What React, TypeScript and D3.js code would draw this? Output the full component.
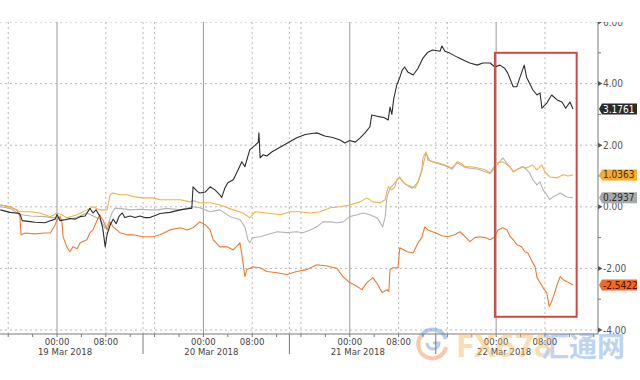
import React from "react";
import * as d3 from "d3";

// ---- data (hours relative to 19 Mar 2018 00:00, value) ----
const blackSeries: [number, number][] = [
  [-9.3, -0.1], [-7.7, -0.18], [-6.1, -0.22], [-5.7, -0.45], [-4.4, -0.48], [-3.6, -0.5], [-2.0, -0.52],
  [-1.1, -0.45], [-0.3, -0.4], [0, -0.25], [0.5, -0.45], [1.3, -0.42], [2.1, -0.38], [3.0, -0.4], [3.8, -0.32],
  [4.6, -0.3], [5.4, -0.05], [5.9, -0.2], [6.4, -0.1], [7.0, -0.3], [7.5, -0.7], [7.9, -1.3], [8.2, -0.9],
  [8.7, -0.6], [9.2, -0.4], [9.7, -0.55], [10.2, -0.3], [10.7, -0.2], [11.1, -0.35], [12.0, -0.3], [12.8, -0.35],
  [13.6, -0.3], [14.4, -0.35], [15.2, -0.35], [16.1, -0.28], [16.9, -0.22], [18.5, -0.18], [20.2, -0.1],
  [21.8, -0.05], [22.1, -0.05], [22.3, 0.65], [23.0, 0.5], [23.4, 0.45], [24.3, 0.48], [25.1, 0.65], [25.9, 0.55],
  [26.7, 0.39], [27.0, 0.3], [27.5, 0.6], [28.0, 0.78], [28.9, 0.88], [29.7, 1.2], [30.3, 1.46], [30.8, 1.3],
  [31.6, 1.85], [32.5, 2.0], [33.0, 2.1], [33.1, 2.4], [33.3, 1.59], [33.8, 1.69], [34.4, 1.65], [35.2, 1.78],
  [39.3, 2.24], [40.7, 2.35], [41.8, 2.38], [42.6, 2.4], [43.9, 2.3], [45.2, 2.25], [46.4, 2.17], [47.2, 2.07],
  [48.0, 2.15], [48.9, 2.1], [49.7, 2.24], [50.5, 2.4], [51.3, 2.6], [51.6, 2.98], [52.3, 2.95], [53.0, 2.92],
  [53.6, 2.9], [54.3, 2.82], [54.6, 3.24], [54.9, 3.0], [55.2, 3.5], [55.7, 3.95], [56.2, 4.2], [56.6, 4.44],
  [57.0, 4.54], [57.5, 4.38], [58.4, 4.28], [59.2, 4.5], [60.0, 4.83], [60.8, 5.02], [61.6, 5.09], [62.8, 5.05],
  [63.1, 5.22], [63.6, 5.05], [64.4, 4.99], [65.6, 4.86], [66.6, 4.77], [67.7, 4.67], [68.9, 4.6], [69.8, 4.67],
  [71.0, 4.67], [71.8, 4.54], [72.6, 4.6], [73.4, 4.5], [73.9, 4.34], [74.8, 3.9], [75.4, 3.9], [75.9, 4.2],
  [76.6, 4.6], [77.0, 4.2], [77.5, 4.0], [78.0, 3.8], [78.7, 3.63], [79.2, 3.7], [79.5, 3.2], [80.3, 3.37],
  [81.1, 3.63], [82.0, 3.47], [82.8, 3.4], [83.4, 3.2], [84.1, 3.4], [84.6, 3.1761],
];

const goldSeries: [number, number][] = [
  [-9.3, 0.06], [-7.7, 0], [-6.1, -0.16], [-4.4, -0.16], [-2.8, -0.2], [-1.1, -0.32], [0, -0.2], [0.8, -0.26],
  [1.6, -0.36], [3.3, -0.26], [4.9, -0.1], [5.9, 0], [7.0, -0.1], [8.2, -0.1], [8.7, 0.39], [9.2, 0.45],
  [10.3, 0.39], [11.5, 0.39], [12.5, 0.33], [14.1, 0.29], [15.7, 0.29], [16.9, 0.23], [18.5, 0.23], [20.2, 0.23],
  [21.8, 0.16], [22.3, 0.2], [23.4, 0.13], [25.1, 0.13], [26.7, 0.06], [28.9, -0.1], [30.5, -0.2], [31.6, -0.36],
  [32.5, -0.16], [34.4, -0.2], [36.6, -0.26], [38.2, -0.16], [39.8, -0.16], [41.5, -0.2], [43.1, -0.16],
  [44.8, -0.03], [46.4, 0], [48.0, 0.06], [49.7, 0.16], [50.8, 0.29], [51.8, 0.16], [53.0, 0.13], [53.8, 0.23],
  [54.3, 0.65], [54.9, 0.55], [55.4, 0.65], [55.7, 0.88], [56.2, 0.97], [56.7, 0.81], [57.4, 0.71], [58.2, 0.65],
  [58.7, 0.6], [59.2, 0.81], [59.8, 1.2], [60.0, 1.59], [60.5, 1.78], [60.8, 1.52], [61.5, 1.46], [62.5, 1.43],
  [63.6, 1.36], [64.8, 1.26], [65.6, 1.46], [66.1, 1.43], [66.9, 1.3], [68.0, 1.3], [69.0, 1.26], [70.2, 1.2],
  [71.0, 1.1], [71.5, 1.26], [72.3, 1.43], [73.1, 1.46], [73.8, 1.36], [74.3, 1.3], [74.8, 1.13], [75.4, 1.2],
  [76.2, 1.3], [77.0, 1.26], [77.9, 1.36], [78.7, 1.2], [79.5, 1.36], [80.0, 1.13], [80.8, 0.97], [82.0, 0.94],
  [83.0, 1.04], [83.8, 1.0], [84.6, 1.0363],
];

const graySeries: [number, number][] = [
  [-9.3, 0], [-7.7, -0.05], [-6.1, -0.25], [-4.4, -0.3], [-2.0, -0.32], [-1.1, -0.35], [0, -0.35], [0.8, -0.42],
  [1.6, -0.42], [3.0, -0.36], [4.9, -0.2], [5.9, -0.3], [7.0, -0.4], [7.9, -0.7], [8.4, -0.55], [9.0, -0.2],
  [9.5, -0.05], [10.3, -0.05], [12.0, -0.1], [13.6, -0.08], [15.2, -0.1], [16.4, -0.1], [18.0, -0.05],
  [20.2, -0.1], [22.3, 0], [23.4, -0.03], [25.1, -0.16], [26.7, -0.1], [28.4, -0.32], [30.0, -0.42],
  [30.8, -0.65], [31.3, -1.07], [31.6, -1.17], [32.1, -1.0], [33.3, -0.97], [34.4, -0.91], [36.1, -0.81],
  [37.7, -0.84], [39.3, -0.81], [40.3, -0.84], [41.5, -0.75], [42.6, -0.65], [43.6, -0.49], [44.8, -0.49],
  [45.9, -0.52], [46.9, -0.49], [48.0, -0.32], [49.2, -0.26], [50.2, -0.2], [51.3, -0.26], [52.5, -0.36],
  [53.4, -0.65], [53.8, -0.32], [54.1, 0.32], [54.6, 0.6], [55.7, 0.85], [56.2, 0.95], [57.0, 0.75], [58.2, 0.6],
  [59.2, 0.8], [59.8, 1.15], [60.5, 1.75], [61.1, 1.5], [62.5, 1.4], [63.6, 1.33], [64.8, 1.22], [65.6, 1.43],
  [66.9, 1.28], [69.0, 1.22], [71.0, 1.08], [72.3, 1.4], [73.1, 1.59], [73.8, 1.4], [74.8, 1.15], [75.9, 1.25],
  [76.4, 1.3], [77.0, 1.2], [77.5, 1.1], [78.0, 0.88], [78.7, 0.71], [79.2, 0.81], [79.7, 0.55], [80.3, 0.39],
  [80.8, 0.23], [81.3, 0.32], [82.0, 0.39], [82.5, 0.45], [83.0, 0.39], [83.6, 0.32], [84.6, 0.2937],
];

const orangeSeries: [number, number][] = [
  [-9.3, 0.06], [-7.7, 0], [-6.6, -0.1], [-6.1, -0.3], [-5.9, -0.91], [-5.2, -0.85], [-3.6, -0.88], [-2.0, -0.85],
  [-1.1, -0.85], [-0.3, -0.58], [0, -0.42], [0.5, -0.32], [0.8, -0.49], [1.0, -0.97], [1.6, -1.3], [2.1, -1.46],
  [2.6, -1.3], [3.3, -1.36], [3.8, -1.17], [4.9, -1.07], [5.4, -0.84], [5.9, -0.75], [6.6, -0.42], [7.0, -0.26],
  [7.5, -0.42], [8.2, -0.75], [8.7, -0.49], [9.2, -0.65], [9.8, -0.75], [10.3, -0.84], [11.5, -0.91],
  [12.5, -0.91], [14.1, -0.97], [15.7, -0.97], [16.9, -0.91], [18.5, -0.75], [20.2, -0.68], [21.3, -0.75],
  [22.3, -0.68], [23.4, -0.49], [24.3, -0.58], [25.1, -0.75], [25.6, -1.07], [26.7, -1.3], [27.9, -1.3],
  [28.9, -1.4], [30.0, -1.17], [30.5, -1.82], [30.8, -2.27], [31.1, -2.04], [32.1, -1.95], [33.3, -1.98],
  [34.4, -2.1], [36.1, -2.14], [37.7, -2.2], [39.3, -2.1], [40.9, -2.04], [42.6, -1.88], [44.3, -1.92],
  [45.9, -2.0], [46.9, -2.27], [48.0, -2.46], [49.2, -2.59], [50.0, -2.69], [50.8, -2.46], [51.8, -2.3],
  [52.6, -2.53], [53.3, -2.79], [54.1, -2.69], [54.4, -2.75], [54.6, -2.04], [55.1, -1.98], [55.9, -1.98],
  [56.2, -1.33], [57.4, -1.46], [58.4, -1.5], [59.2, -1.17], [59.8, -1.0], [60.3, -0.65], [60.8, -0.75],
  [62.0, -0.84], [63.1, -0.94], [64.1, -0.97], [65.2, -0.91], [66.1, -0.81], [66.9, -0.97], [67.7, -1.13],
  [68.5, -1.0], [69.3, -0.97], [70.2, -1.0], [71.0, -1.07], [71.8, -0.97], [72.3, -0.75], [73.1, -0.68],
  [73.8, -0.75], [74.3, -0.97], [74.8, -1.07], [75.4, -1.23], [76.2, -1.3], [76.7, -1.46], [77.2, -1.5],
  [77.9, -1.78], [78.4, -1.95], [78.7, -2.3], [79.2, -2.46], [79.7, -2.63], [80.3, -2.79], [80.7, -3.24],
  [81.1, -3.08], [81.5, -2.85], [82.0, -2.53], [82.5, -2.27], [83.0, -2.37], [83.6, -2.43], [84.6, -2.5422],
];

const dayStartHours = [0, 24, 48, 72];
const dayLabels = ["19 Mar 2018", "20 Mar 2018", "21 Mar 2018", "22 Mar 2018"];
const eightHours = [8, 32, 56, 80];
const dottedHours = [-8, 8, 16, 32, 40, 56, 64, 80];
const sessionHours = [14.1, 38.1, 62.1];
const yMajor = [-4, -2, 0, 2, 4, 6];
const yMinor = [-3, -1, 1, 3, 5];
const lastLabels = ["3.1761", "1.0363", "0.2937", "-2.5422"];
const lastValues = [3.1761, 1.0363, 0.2937, -2.5422];
// highlight box: [startHour, endHour, lowValue, highValue]
const highlight = [71.8, 85.2, -3.57, 5.0];

const FONT = "'DejaVu Sans Condensed', 'DejaVu Sans', sans-serif";

export default function App() {
  const plotRight = 598;
  const x = d3.scaleLinear().domain([-9.35, 88.7]).range([0, plotRight]);
  const y = d3.scaleLinear().domain([-4, 6]).range([330, 22]);
  const axisY = 334;
  const line = d3
    .line<[number, number]>()
    .x((d) => x(d[0]))
    .y((d) => y(d[1]));

  const series = [
    { data: graySeries, color: "#b4b4b4" },
    { data: orangeSeries, color: "#ec7b33" },
    { data: goldSeries, color: "#efb24a" },
    { data: blackSeries, color: "#2e2e2e" },
  ];
  const boxStyles = [
    { fill: "#2b2b2b", text: "#ffffff" },
    { fill: "#f4aa34", text: "#4a3000" },
    { fill: "#a9a9a9", text: "#2a2a2a" },
    { fill: "#f06a22", text: "#4a1200" },
  ];
  const ticks4h = d3.range(-8, 89, 4);

  return (
    <svg
      width={640}
      height={380}
      style={{ position: "absolute", left: 0, top: 0, background: "#fff" }}
      fontFamily={FONT}
    >
      <defs>
        <clipPath id="topclip">
          <rect x={0} y={22} width={640} height={358} />
        </clipPath>
      </defs>
      <rect x={0} y={0} width={640} height={380} fill="#fff" />
      <g clipPath="url(#topclip)">
        {/* horizontal gridlines */}
        {yMajor.map((v) => (
          <line key={"h" + v} x1={0} x2={plotRight} y1={y(v)} y2={y(v)} stroke="#b8b8b8" strokeDasharray="2,3" />
        ))}
        {/* dotted verticals */}
        {dottedHours.concat(sessionHours).map((h) => (
          <line key={"dv" + h} x1={x(h)} x2={x(h)} y1={22} y2={axisY} stroke="#b8b8b8" strokeDasharray="2,3" />
        ))}
        {/* day lines */}
        {dayStartHours.map((h) => (
          <line key={"dl" + h} x1={x(h)} x2={x(h)} y1={22} y2={axisY} stroke="#9a9a9a" strokeWidth={1} />
        ))}
        {/* axes */}
        <line x1={0} x2={plotRight} y1={axisY} y2={axisY} stroke="#7a7a7a" />
        <line x1={plotRight} x2={plotRight} y1={22} y2={axisY} stroke="#7a7a7a" />
        {ticks4h.map((h) => (
          <line key={"t" + h} x1={x(h)} x2={x(h)} y1={axisY} y2={axisY + 3} stroke="#7a7a7a" />
        ))}
        {sessionHours.map((h) => (
          <line key={"s" + h} x1={x(h)} x2={x(h)} y1={axisY} y2={354} stroke="#7a7a7a" />
        ))}
        {/* series */}
        {series.map((s, i) => (
          <path key={"s" + i} d={line(s.data) || ""} fill="none" stroke={s.color} strokeWidth={1.1} strokeLinejoin="round" />
        ))}
        {/* right axis ticks */}
        {yMinor.map((v) => (
          <line key={"mi" + v} x1={plotRight} x2={plotRight + 3} y1={y(v)} y2={y(v)} stroke="#7a7a7a" />
        ))}
        {yMajor.map((v) => (
          <g key={"ma" + v}>
            <path
              d={`M${plotRight},${y(v) - 2.5}L${plotRight + 4.5},${y(v)}L${plotRight},${y(v) + 2.5}Z`}
              fill="#555"
            />
            <text x={plotRight + 5} y={y(v)} dy="0.35em" fontSize={10} fill="#555" fontStretch="condensed">
              {v.toFixed(2)}
            </text>
          </g>
        ))}
        {/* last-value boxes */}
        {lastValues.map((v, i) => {
          const cy = y(v);
          const x0 = plotRight + 1;
          const x1 = 637;
          return (
            <g key={"lb" + i}>
              <path
                d={`M${x0},${cy}L${x0 + 3},${cy - 5.5}L${x1},${cy - 5.5}L${x1},${cy + 5.5}L${x0 + 3},${cy + 5.5}Z`}
                fill={boxStyles[i].fill}
              />
              <text x={x0 + 4} y={cy} dy="0.36em" fontSize={10} fill={boxStyles[i].text} fontStretch="condensed">
                {lastLabels[i]}
              </text>
            </g>
          );
        })}
        {/* highlight */}
        <rect
          x={x(highlight[0])}
          y={y(highlight[3])}
          width={x(highlight[1]) - x(highlight[0])}
          height={y(highlight[2]) - y(highlight[3])}
          fill="none"
          stroke="#d2473f"
          strokeWidth={2}
        />
      </g>
      {/* x labels */}
      {dayStartHours.map((h, i) => (
        <g key={"xl" + h}>
          <text x={x(h)} y={345} textAnchor="middle" fontSize={9.5} fill="#444" fontStretch="condensed">
            00:00
          </text>
          <text x={x(h) + 8} y={355} textAnchor="middle" fontSize={9.5} fill="#444" fontStretch="condensed">
            {dayLabels[i]}
          </text>
        </g>
      ))}
      {eightHours.map((h) => (
        <text key={"e" + h} x={x(h)} y={345} textAnchor="middle" fontSize={9.5} fill="#444" fontStretch="condensed">
          08:00
        </text>
      ))}
      {/* watermark */}
      <g opacity={0.45}>
        <path d="M 421 336 A 14 14 0 1 0 446 347" fill="none" stroke="#f08a4a" strokeWidth={4} />
        <path d="M 421 336 A 14 14 0 0 1 446 339" fill="none" stroke="#5b8fd0" strokeWidth={4} />
        <path d="M 427 343 A 6 6 0 1 0 439 343 L 433 343" fill="none" stroke="#5b8fd0" strokeWidth={3} />
        <text x={456} y={357} fontSize={33} fontFamily="'Open Sans', 'DejaVu Sans', sans-serif" fontWeight={700} fill="#f7b55a">
          FX678
        </text>
        <text x={541} y={357} fontSize={28} fontFamily="'Noto Sans CJK SC', sans-serif" fontWeight={700} fill="#6f9fdc">
          汇通网
        </text>
      </g>
    </svg>
  );
}
